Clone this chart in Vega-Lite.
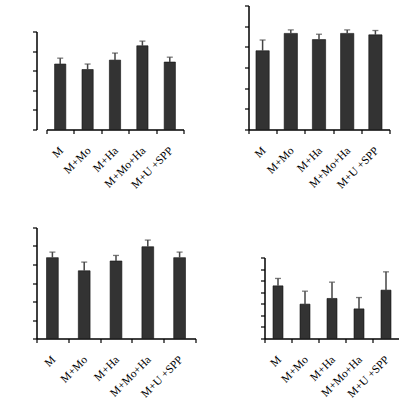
{
  "$schema": "https://vega.github.io/schema/vega-lite/v6.json",
  "padding": {"left": 31.5, "top": 4.5, "right": 0, "bottom": 0},
  "background": "white",
  "config": {
    "view": {"stroke": null},
    "axis": {
      "domainColor": "#000", "domainWidth": 1.5, "tickColor": "#000", "tickWidth": 1.2, "tickSize": 4,
      "grid": false, "title": null,
      "labelFont": "Liberation Serif", "labelFontSize": 11.5, "labelColor": "#000"
    },
    "axisX": {"labelAngle": -45, "tickBand": "extent", "labelPadding": 11, "labelOffset": -3},
    "axisY": {"labels": false}
  },
  "data": {"values": [
    {"panel": "A", "group": "M", "mean": 3.34, "upper": 3.64},
    {"panel": "A", "group": "M+Mo", "mean": 3.06, "upper": 3.34},
    {"panel": "A", "group": "M+Ha", "mean": 3.54, "upper": 3.9},
    {"panel": "A", "group": "M+Mo+Ha", "mean": 4.27, "upper": 4.51},
    {"panel": "A", "group": "M+U +SPP", "mean": 3.44, "upper": 3.69},
    {"panel": "B", "group": "M", "mean": 3.81, "upper": 4.33},
    {"panel": "B", "group": "M+Mo", "mean": 4.65, "upper": 4.82},
    {"panel": "B", "group": "M+Ha", "mean": 4.35, "upper": 4.61},
    {"panel": "B", "group": "M+Mo+Ha", "mean": 4.65, "upper": 4.82},
    {"panel": "B", "group": "M+U +SPP", "mean": 4.58, "upper": 4.79},
    {"panel": "C", "group": "M", "mean": 4.37, "upper": 4.67},
    {"panel": "C", "group": "M+Mo", "mean": 3.66, "upper": 4.13},
    {"panel": "C", "group": "M+Ha", "mean": 4.19, "upper": 4.49},
    {"panel": "C", "group": "M+Mo+Ha", "mean": 4.96, "upper": 5.32},
    {"panel": "C", "group": "M+U +SPP", "mean": 4.37, "upper": 4.67},
    {"panel": "D", "group": "M", "mean": 4.55, "upper": 5.19},
    {"panel": "D", "group": "M+Mo", "mean": 2.97, "upper": 4.09},
    {"panel": "D", "group": "M+Ha", "mean": 3.46, "upper": 4.87},
    {"panel": "D", "group": "M+Mo+Ha", "mean": 2.56, "upper": 3.54},
    {"panel": "D", "group": "M+U +SPP", "mean": 4.18, "upper": 5.76}
  ]},
  "bounds": "flush",
  "spacing": 222,
  "vconcat": [
    {
      "bounds": "flush",
      "spacing": 65,
      "hconcat": [
        {
          "width": 147, "height": 124,
          "transform": [{"filter": "datum.panel == 'A'"}],
          "encoding": {"x": {"field": "group", "type": "nominal", "sort": null, "scale": {"range": [10, 147], "paddingInner": 0, "paddingOuter": 0}}},
          "layer": [
            {"mark": {"type": "bar", "width": {"band": 0.41}, "fill": "#333333", "stroke": "#111111", "strokeWidth": 0.6},
             "encoding": {"y": {"field": "mean", "type": "quantitative", "scale": {"domain": [0, 5], "range": [124, 26]}, "axis": {"values": [0, 1, 2, 3, 4, 5]}}}},
            {"mark": {"type": "rule", "color": "#444444", "strokeWidth": 1.5},
             "encoding": {"y": {"field": "mean", "type": "quantitative", "axis": {"values": [0, 1, 2, 3, 4, 5]}}, "y2": {"field": "upper"}}},
            {"mark": {"type": "tick", "orient": "horizontal", "color": "#444444", "size": 6, "thickness": 1.3},
             "encoding": {"y": {"field": "upper", "type": "quantitative", "axis": {"values": [0, 1, 2, 3, 4, 5]}}}}
          ]
        },
        {
          "width": 141, "height": 124,
          "transform": [{"filter": "datum.panel == 'B'"}],
          "encoding": {"x": {"field": "group", "type": "nominal", "sort": null, "scale": {"paddingInner": 0, "paddingOuter": 0}}},
          "layer": [
            {"mark": {"type": "bar", "width": {"band": 0.47}, "fill": "#333333", "stroke": "#111111", "strokeWidth": 0.6},
             "encoding": {"y": {"field": "mean", "type": "quantitative", "scale": {"domain": [0, 6]}, "axis": {"values": [0, 1, 2, 3, 4, 5, 6]}}}},
            {"mark": {"type": "rule", "color": "#444444", "strokeWidth": 1.5},
             "encoding": {"y": {"field": "mean", "type": "quantitative", "axis": {"values": [0, 1, 2, 3, 4, 5, 6]}}, "y2": {"field": "upper"}}},
            {"mark": {"type": "tick", "orient": "horizontal", "color": "#444444", "size": 6, "thickness": 1.3},
             "encoding": {"y": {"field": "upper", "type": "quantitative", "axis": {"values": [0, 1, 2, 3, 4, 5, 6]}}}}
          ]
        }
      ]
    },
    {
      "bounds": "flush",
      "spacing": 69,
      "hconcat": [
        {
          "width": 159, "height": 111,
          "transform": [{"filter": "datum.panel == 'C'"}],
          "encoding": {"x": {"field": "group", "type": "nominal", "sort": null, "scale": {"paddingInner": 0, "paddingOuter": 0}}},
          "layer": [
            {"mark": {"type": "bar", "width": {"band": 0.37}, "fill": "#333333", "stroke": "#111111", "strokeWidth": 0.6},
             "encoding": {"y": {"field": "mean", "type": "quantitative", "scale": {"domain": [0, 6]}, "axis": {"values": [0, 1, 2, 3, 4, 5, 6]}}}},
            {"mark": {"type": "rule", "color": "#444444", "strokeWidth": 1.5},
             "encoding": {"y": {"field": "mean", "type": "quantitative", "axis": {"values": [0, 1, 2, 3, 4, 5, 6]}}, "y2": {"field": "upper"}}},
            {"mark": {"type": "tick", "orient": "horizontal", "color": "#444444", "size": 6, "thickness": 1.3},
             "encoding": {"y": {"field": "upper", "type": "quantitative", "axis": {"values": [0, 1, 2, 3, 4, 5, 6]}}}}
          ]
        },
        {
          "width": 135, "height": 111,
          "transform": [{"filter": "datum.panel == 'D'"}],
          "encoding": {"x": {"field": "group", "type": "nominal", "sort": null, "scale": {"paddingInner": 0, "paddingOuter": 0}}},
          "layer": [
            {"mark": {"type": "bar", "width": {"band": 0.37}, "fill": "#333333", "stroke": "#111111", "strokeWidth": 0.6},
             "encoding": {"y": {"field": "mean", "type": "quantitative", "scale": {"domain": [0, 7], "range": [111, 30]}, "axis": {"values": [0, 1, 2, 3, 4, 5, 6, 7]}}}},
            {"mark": {"type": "rule", "color": "#444444", "strokeWidth": 1.5},
             "encoding": {"y": {"field": "mean", "type": "quantitative", "axis": {"values": [0, 1, 2, 3, 4, 5, 6, 7]}}, "y2": {"field": "upper"}}},
            {"mark": {"type": "tick", "orient": "horizontal", "color": "#444444", "size": 6, "thickness": 1.3},
             "encoding": {"y": {"field": "upper", "type": "quantitative", "axis": {"values": [0, 1, 2, 3, 4, 5, 6, 7]}}}}
          ]
        }
      ]
    }
  ]
}
